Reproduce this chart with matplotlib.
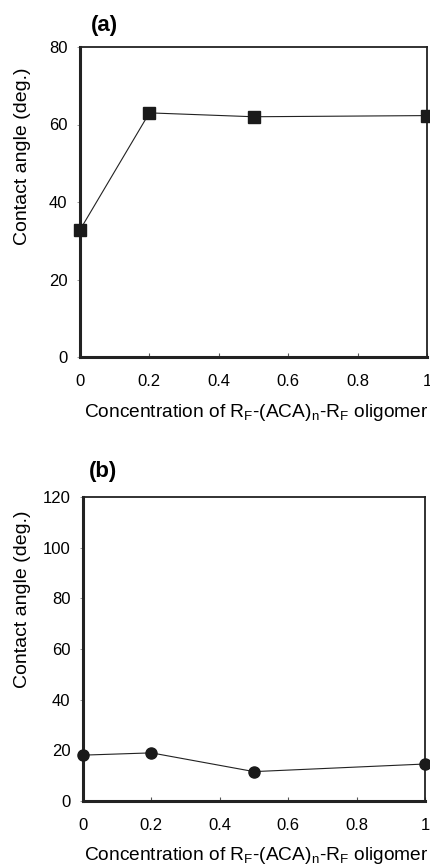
import matplotlib
matplotlib.use("Agg")
import matplotlib.pyplot as plt

conc = [0, 0.2, 0.5, 1.0]
angle_a = [32.8, 63.0, 62.0, 62.3]
angle_b = [18.1, 19.0, 11.6, 14.6]
xticks = [0, 0.2, 0.4, 0.6, 0.8, 1]
xticklabels = ["0", "0.2", "0.4", "0.6", "0.8", "1"]
yticks_a = [0, 20, 40, 60, 80]
yticks_b = [0, 20, 40, 60, 80, 100, 120]
xlabel = "Concentration of R$_\\mathregular{F}$-(ACA)$_\\mathregular{n}$-R$_\\mathregular{F}$ oligomer"
ylabel = "Contact angle (deg.)"

plt.rcParams['font.family'] = ['Liberation Sans', 'DejaVu Sans']
plt.rcParams['mathtext.fontset'] = 'custom'
plt.rcParams['mathtext.rm'] = 'Liberation Sans'

W, H = 430, 868
fig = plt.figure(figsize=(W/100, H/100), dpi=100)

def fx(px):
    return px / W

def fy(py):
    return 1 - py / H

def setup(ax, ymax, yticks, title, title_xy, ylab_xy, xlab_xy):
    ax.set_xlim(0, 1)
    ax.set_ylim(0, ymax)
    ax.set_xticks(xticks)
    ax.set_xticklabels(xticklabels)
    ax.set_yticks(yticks)
    ax.tick_params(axis='x', direction='in', length=3, width=0.8, pad=12, labelsize=12, color='#555555')
    ax.tick_params(axis='y', direction='out', length=2, width=0.6, pad=7, labelsize=12, color='#888888')
    for s in ['top', 'right']:
        ax.spines[s].set_linewidth(1.3)
    for s in ['left', 'bottom']:
        ax.spines[s].set_linewidth(2.2)
    for s in ax.spines.values():
        s.set_color('#222222')
    fig.text(fx(ylab_xy[0]), fy(ylab_xy[1]), ylabel, rotation=90, ha='center', va='center', fontsize=14)
    fig.text(fx(xlab_xy[0]), fy(xlab_xy[1]), xlabel, ha='right', va='center', fontsize=13.8)
    fig.text(fx(title_xy[0]), fy(title_xy[1]), title, ha='left', va='center', fontsize=16, fontweight='bold')

def rect(l, t, r, b):
    return [l/W, 1 - b/H, (r-l)/W, (b-t)/H]

ax1 = fig.add_axes(rect(80, 47, 427, 357))
ax1.plot(conc, angle_a, color='#222222', lw=0.8, marker='s', ms=8, mfc='#1a1a1a', mec='#1a1a1a', clip_on=False, zorder=5)
setup(ax1, 80, yticks_a, "(a)", (91, 26), (23, 156), (428, 412))

ax2 = fig.add_axes(rect(83, 497, 425, 801))
ax2.plot(conc, angle_b, color='#222222', lw=0.8, marker='o', ms=8, mfc='#1a1a1a', mec='#1a1a1a', clip_on=False, zorder=5)
setup(ax2, 120, yticks_b, "(b)", (89, 471), (23, 599), (428, 856))

fig.savefig("out.png", dpi=100)
